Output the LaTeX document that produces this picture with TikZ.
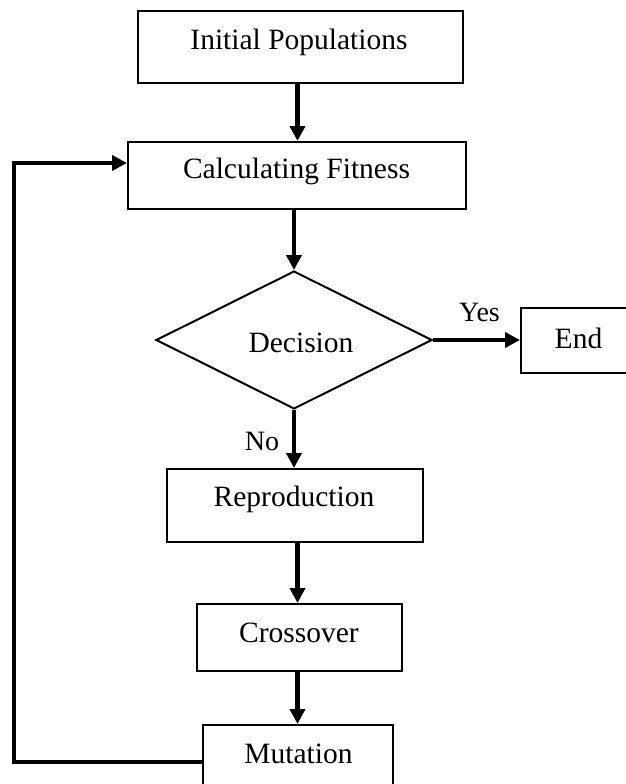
\documentclass[tikz,border=0pt]{standalone}
\usepackage{fontspec}
\setmainfont{Liberation Serif}
\usetikzlibrary{arrows.meta,shapes.geometric}
\begin{document}
\begin{tikzpicture}[x=1pt,y=-1pt,
  box/.style={draw,line width=2pt,rectangle,inner sep=0pt},
  lbl/.style={anchor=base,inner sep=0pt,font=\fontsize{29.5}{35}\selectfont},
  yesno/.style={anchor=base,inner sep=0pt,font=\fontsize{28}{33}\selectfont},
  arr/.style={line width=4.5pt,line join=miter,-{Triangle[length=15pt,width=15pt]}},
]
\useasboundingbox (0,0) rectangle (625,784);

% process boxes
\node[box,minimum width=325pt,minimum height=72pt] (init)  at (300.5,47)   {};
\node[box,minimum width=338pt,minimum height=67pt] (calc)  at (297,175.5)  {};
\node[box,diamond,minimum width=276pt,minimum height=138pt] (dec) at (294,340) {};
\node[box,minimum width=120pt,minimum height=65pt] (end)   at (581,340.5)  {};
\node[box,minimum width=256pt,minimum height=73pt] (repro) at (295,505.5)  {};
\node[box,minimum width=205pt,minimum height=67pt] (cross) at (299.5,637.5){};
\node[box,minimum width=190pt,minimum height=74pt] (mut)   at (298,762)    {};

% texts
\node[lbl] (tinit)  at (299,49)    {Initial Populations};
\node[lbl] (tcalc)  at (296.5,178) {Calculating Fitness};
\node[lbl] (tdec)   at (301,352)   {Decision};
\node[lbl] (tend)   at (578.5,348) {End};
\node[lbl] (trepro) at (294,506)   {Reproduction};
\node[lbl] (tcross) at (299,642)   {Crossover};
\node[lbl] (tmut)   at (298.5,763) {Mutation};
\node[yesno] (tyes) at (479.5,321) {Yes};
\node[yesno] (tno)  at (262,450)   {No};

% connectors
\coordinate (axis) at (297.5,0);
\coordinate (loop) at (14,163);
\draw[arr] (init.south -| axis) -- (calc.north -| axis);
\draw[arr] (calc.south -| dec.north) -- (dec.north);
\draw[arr] (dec.east) -- (end.west |- dec.east);
\draw[arr] (dec.south) -- (repro.north -| dec.south);
\draw[arr] (repro.south -| axis) -- (cross.north -| axis);
\draw[arr] (cross.south -| axis) -- (mut.north -| axis);
\draw[arr] (mut.west) -| (loop) -- (calc.west |- loop);
\end{tikzpicture}
\end{document}
